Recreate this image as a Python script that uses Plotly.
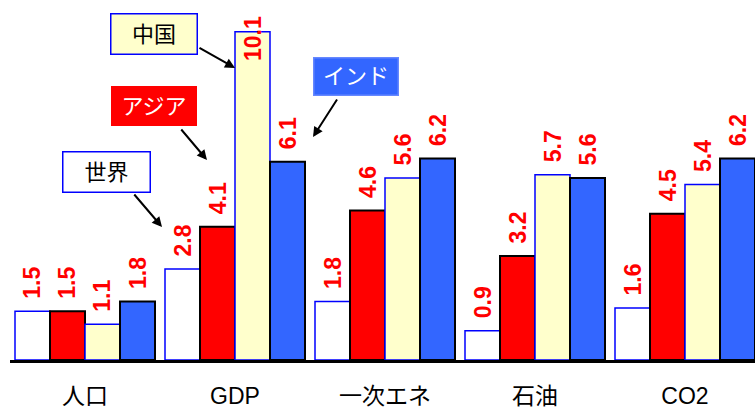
import plotly.graph_objects as go

categories = ["人口", "GDP", "一次エネ", "石油", "CO2"]
series_names = ["世界", "アジア", "中国", "インド"]
world = [1.5, 2.8, 1.8, 0.9, 1.6]
asia = [1.5, 4.1, 4.6, 3.2, 4.5]
china = [1.1, 10.1, 5.6, 5.7, 5.4]
india = [1.8, 6.1, 6.2, 5.6, 6.2]
series_values = [world, asia, china, india]

fills = ["#FFFFFF", "#FF0000", "#FFFFCC", "#3366FF"]
outlines = ["#0000FF", "#000000", "#0000FF", "#000000"]
outline_w = [1.5, 2, 1.5, 2]

W, H = 755, 410
ML, MR, MT, MB = 10, 0, 0, 50
plot_w = W - ML - MR
plot_h = H - MT - MB
px_per_cat = 150
px_per_unit = 32.5
bargap = 10 / px_per_cat
y_max = plot_h / px_per_unit

FONT = "Liberation Sans, Arial, Noto Sans CJK JP, sans-serif"

fig = go.Figure()
for name, vals, fc, lc, lw in zip(series_names, series_values, fills, outlines, outline_w):
    fig.add_trace(go.Bar(x=categories, y=vals, name=name,
                         marker=dict(color=fc, line=dict(color=lc, width=lw))))

# value labels (rotated, red, bold)
n = len(series_values)
bw = (1 - bargap) / n
label_len_px = 47
annotations = []
for j, vals in enumerate(series_values):
    off = -(1 - bargap) / 2 + (j + 0.5) * bw
    for i, v in enumerate(vals):
        top_px = plot_h - v * px_per_unit
        shift = min(11, top_px - label_len_px - 15)
        annotations.append(dict(x=i + off, y=v, xref="x", yref="y", text=f"{v:.1f}",
                                showarrow=False, textangle=-90, yanchor="bottom",
                                xanchor="center", yshift=shift, borderpad=0,
                                font=dict(family=FONT, size=23, color="#FF0000", weight="bold")))

def px2paper(px, py):
    return (px - ML) / plot_w, (MT + plot_h - py) / plot_h

# callout boxes: (text, x0, y0, x1, y1, fill, border, textcolor)
boxes = [
    ("中国", 110, 13, 198, 55, "#FFFFCC", "#0000FF", "#000000"),
    ("アジア", 111, 86, 197, 126, "#FF0000", "#FF0000", "#FFFFFF"),
    ("世界", 62, 151, 151, 193, "#FFFFFF", "#0000FF", "#000000"),
    ("インド", 313, 57, 399, 96, "#3366FF", "#6688FF", "#FFFFFF"),
]
for t, x0, y0, x1, y1, fc, bc, tc in boxes:
    cx, cy = px2paper((x0 + x1) / 2, (y0 + y1) / 2)
    annotations.append(dict(x=cx, y=cy, xref="paper", yref="paper", text=t, showarrow=False,
                            xanchor="center", yanchor="middle", bgcolor=fc, bordercolor=bc,
                            borderwidth=1.5, borderpad=0, width=x1 - x0 - 3, height=y1 - y0 - 3,
                            font=dict(family=FONT, size=22, color=tc)))

# arrows: (start_x, start_y, tip_x, tip_y) in pixels
arrows = [(198, 47, 235, 68), (180, 128, 207, 160), (133, 193, 162, 227), (338, 98, 313, 137)]
for sx, sy, tx, ty in arrows:
    ax_, ay_ = px2paper(tx, ty)
    annotations.append(dict(x=ax_, y=ay_, xref="paper", yref="paper", text="",
                            showarrow=True, ax=sx - tx, ay=sy - ty, arrowhead=2,
                            arrowsize=1, arrowwidth=2, arrowcolor="#000000", standoff=0))

fig.update_layout(
    width=W, height=H, margin=dict(l=ML, r=MR, t=MT, b=MB),
    barmode="group", bargap=bargap, bargroupgap=0,
    plot_bgcolor="white", paper_bgcolor="white", showlegend=False,
    annotations=annotations,
    xaxis=dict(range=[-0.5, -0.5 + plot_w / px_per_cat], showline=True, linecolor="black",
               linewidth=3, ticks="", showgrid=False, ticklabelstandoff=13, automargin=False,
               tickfont=dict(family=FONT, size=23, color="#000000")),
    yaxis=dict(range=[0, y_max], visible=False, showgrid=False, zeroline=False, automargin=False),
)

fig.write_html("out.html")
